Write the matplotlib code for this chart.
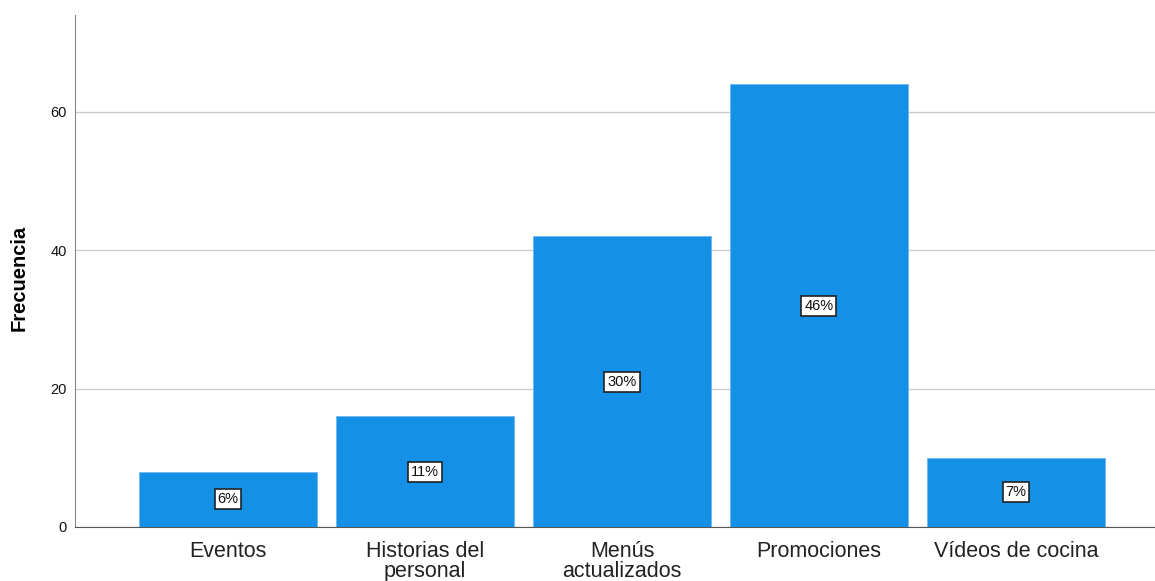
import matplotlib.pyplot as plt

categories = ["Eventos", "Historias del\npersonal", "Menús\nactualizados",
              "Promociones", "Vídeos de cocina"]
frecuencia = [8, 16, 42, 64, 10]
porcentajes = ["6%", "11%", "30%", "46%", "7%"]

plt.rcParams["font.family"] = ["Liberation Sans", "DejaVu Sans"]

fig = plt.figure(figsize=(11.55, 5.81), dpi=100)
ax = fig.add_axes([75 / 1155, 1 - 527 / 581, 1 - 75 / 1155, (527 - 15) / 581])

x = list(range(len(categories)))
ax.bar(x, frecuencia, width=0.9, color="#1490e6", edgecolor="#6fb6ee",
       linewidth=0.6, zorder=3)

for xi, v, p in zip(x, frecuencia, porcentajes):
    ax.text(xi, v / 2, p, ha="center", va="center", fontsize=10.5, zorder=4,
            color="#111111",
            bbox=dict(boxstyle="square,pad=0.2", facecolor="white",
                      edgecolor="#222222", linewidth=1.2))

ax.set_xlim(-0.777, 4.706)
ax.set_ylim(0, 74)
ax.set_yticks([0, 20, 40, 60])
ax.set_xticks(x)
ax.set_xticklabels(categories, fontsize=15.5, color="#222222", linespacing=0.95)
ax.tick_params(axis="x", length=0, pad=10)
ax.tick_params(axis="y", length=0, pad=6, labelsize=10.5, labelcolor="#111111")
ax.set_ylabel("Frecuencia", fontsize=14.5, fontweight="bold")
ax.yaxis.set_label_coords(-0.043, 0.487)

ax.grid(axis="y", color="#cccccc", linewidth=1, zorder=0)
for side in ["top", "right"]:
    ax.spines[side].set_visible(False)
ax.spines["left"].set_color("#888888")
ax.spines["bottom"].set_color("#555555")

fig.savefig("out.png", dpi=100)
